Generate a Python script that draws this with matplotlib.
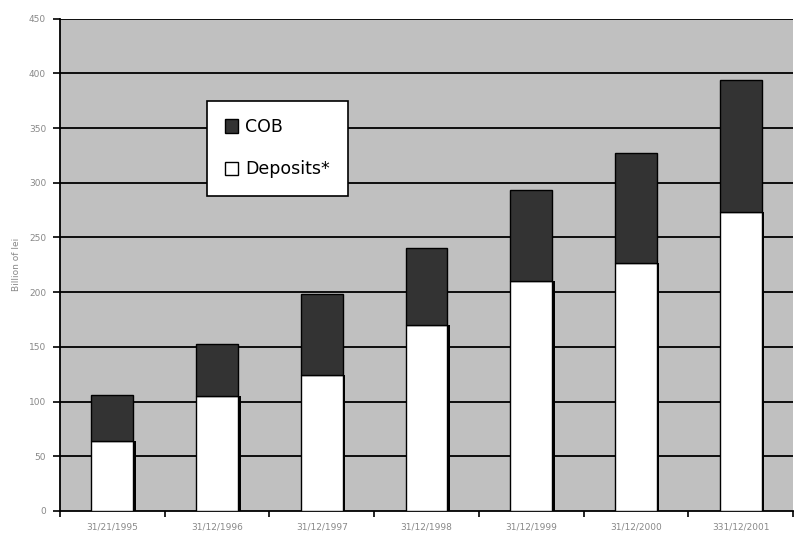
import numpy as np
import matplotlib
matplotlib.use("Agg")
import matplotlib.pyplot as plt

dates = ["31/21/1995", "31/12/1996", "31/12/1997", "31/12/1998",
         "31/12/1999", "31/12/2000", "331/12/2001"]
deposits = [64, 105, 124, 170, 210, 227, 273]
cob = [42, 48, 74, 70, 83, 100, 121]

fig = plt.figure(figsize=(7.95, 5.35), dpi=100)
ax = fig.add_axes([0.0755, 0.045, 0.922, 0.92])
ax.set_facecolor("#c0c0c0")

x = np.arange(len(dates))
w = 0.4

# gridlines behind the bars
for v in range(50, 451, 50):
    ax.axhline(v, color="black", lw=1.3, zorder=1)

# small shadow on the right side of each column
ax.bar(x + w / 2 + 0.012, deposits, width=0.025, color="black", zorder=2)
ax.bar(x, deposits, width=w, color="white", edgecolor="black", lw=1, zorder=3, label="Deposits*")
ax.bar(x, cob, width=w, bottom=deposits, color="#333333", edgecolor="black", lw=1, zorder=3, label="COB")

ax.set_xlim(-0.5, len(dates) - 0.5)
ax.set_ylim(0, 450)
ax.set_yticks(range(0, 451, 50))
ax.set_xticks(x)
ax.set_xticklabels(dates)
ax.set_xticks(np.arange(-0.5, len(dates), 1), minor=True)
ax.tick_params(axis="x", which="major", length=0, pad=8, labelsize=6.5, labelcolor="#888888")
ax.tick_params(axis="x", which="minor", length=4, width=1.2, direction="out")
ax.tick_params(axis="y", length=5, width=1.2, labelsize=6.5, labelcolor="#888888", pad=5)

for s in ["top", "right"]:
    ax.spines[s].set_visible(False)
ax.spines["left"].set_linewidth(1.3)
ax.spines["bottom"].set_linewidth(1.3)

ax.set_ylabel("Billion of lei", fontsize=6.5, color="#888888", labelpad=6)

handles, labels = ax.get_legend_handles_labels()
order = [labels.index("COB"), labels.index("Deposits*")]
leg = ax.legend([handles[i] for i in order], [labels[i] for i in order],
                loc="upper left", bbox_to_anchor=(0.189, 0.851),
                fontsize=12.5, frameon=True, fancybox=False, framealpha=1,
                edgecolor="black", handlelength=0.8, handleheight=0.8,
                handletextpad=0.4, labelspacing=1.4, borderpad=1.0)
leg.get_frame().set_linewidth(1.2)
leg.set_zorder(5)

plt.savefig("out.png", dpi=100)
